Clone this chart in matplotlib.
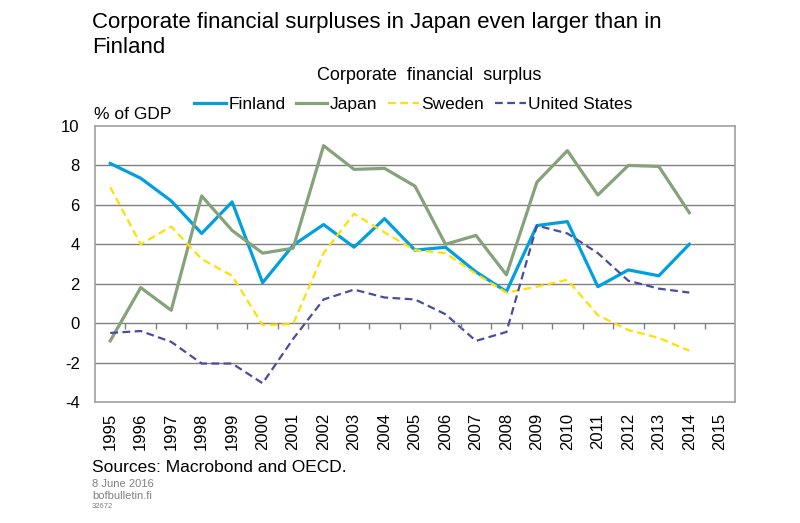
import matplotlib.pyplot as plt
import numpy as np

plt.rcParams['font.family'] = ['Liberation Sans', 'DejaVu Sans']
plt.rcParams['axes.unicode_minus'] = False

years = [str(y) for y in range(1995, 2016)]
finland = [8.1, 7.35, 6.2, 4.55, 6.15, 2.05, 3.95, 5.0, 3.85, 5.3,
           3.7, 3.85, 2.6, 1.6, 4.95, 5.15, 1.85, 2.7, 2.4, 4.0]
japan = [-0.9, 1.8, 0.65, 6.45, 4.7, 3.55, 3.8, 9.0, 7.8, 7.85,
         6.95, 4.0, 4.45, 2.45, 7.15, 8.75, 6.5, 8.0, 7.95, 5.6]
sweden = [6.9, 4.0, 4.9, 3.25, 2.4, -0.1, -0.05, 3.55, 5.55, 4.6,
          3.7, 3.55, 2.5, 1.55, 1.85, 2.2, 0.4, -0.35, -0.75, -1.4]
united_states = [-0.5, -0.4, -0.95, -2.05, -2.05, -3.05, -0.8, 1.2, 1.7, 1.3,
                 1.2, 0.45, -0.9, -0.45, 4.95, 4.55, 3.55, 2.15, 1.75, 1.55]

fig = plt.figure(figsize=(8, 5.23), dpi=100)
ax = fig.add_axes([0.11875, 0.2314, 0.8, 0.5277])

x = np.arange(len(finland))
ax.plot(x, finland, color='#00A0E0', linewidth=2.3, label='Finland')
ax.plot(x, japan, color='#86A27A', linewidth=2.3, label='Japan')
ax.plot(x, sweden, color='#FFE000', linewidth=1.6, dashes=(3.5, 2), label='Sweden')
ax.plot(x, united_states, color='#4A4CA0', linewidth=1.6, dashes=(3.5, 2),
        label='United States')

ax.set_xlim(-0.5, len(years) - 0.5)
ax.set_ylim(-4, 10)
ax.set_yticks(range(-4, 11, 2))
ax.set_xticks(range(len(years)))
ax.set_xticklabels(years, rotation=90)
ax.tick_params(axis='both', length=0, labelsize=12)
ax.tick_params(axis='x', pad=8)
ax.tick_params(axis='y', pad=11)

for v in range(-2, 10, 2):
    ax.axhline(v, color='#808080', linewidth=1, zorder=0)
# category separators on the zero line
ax.vlines(np.arange(0.5, len(years) - 0.5), -0.3, 0, color='#808080', linewidth=1)

for s in ax.spines.values():
    s.set_color('#A0A0A0')
    s.set_linewidth(1.2)

fig.text(0.115, 0.978, 'Corporate financial surpluses in Japan even larger than in\nFinland',
         fontsize=16, va='top', ha='left', linespacing=1.25)
fig.text(0.536, 0.856, 'Corporate  financial  surplus', fontsize=13, ha='center', va='center')
fig.text(0.118, 0.782, '% of GDP', fontsize=12.5, ha='left', va='center')

fig.legend(loc='center', bbox_to_anchor=(0.517, 0.801), ncol=4, frameon=False,
           fontsize=12.5, handlelength=1.8, handletextpad=0.15, columnspacing=0.6,
           borderpad=0)

fig.text(0.115, 0.106, 'Sources: Macrobond and OECD.', fontsize=12.5, va='center')
fig.text(0.115, 0.075, '8 June 2016', fontsize=8, color='#808080', va='center')
fig.text(0.115, 0.052, 'bofbulletin.fi', fontsize=8, color='#808080', va='center')
fig.text(0.115, 0.031, '32672', fontsize=5.5, color='#808080', va='center')

fig.savefig('out.png', dpi=100)
